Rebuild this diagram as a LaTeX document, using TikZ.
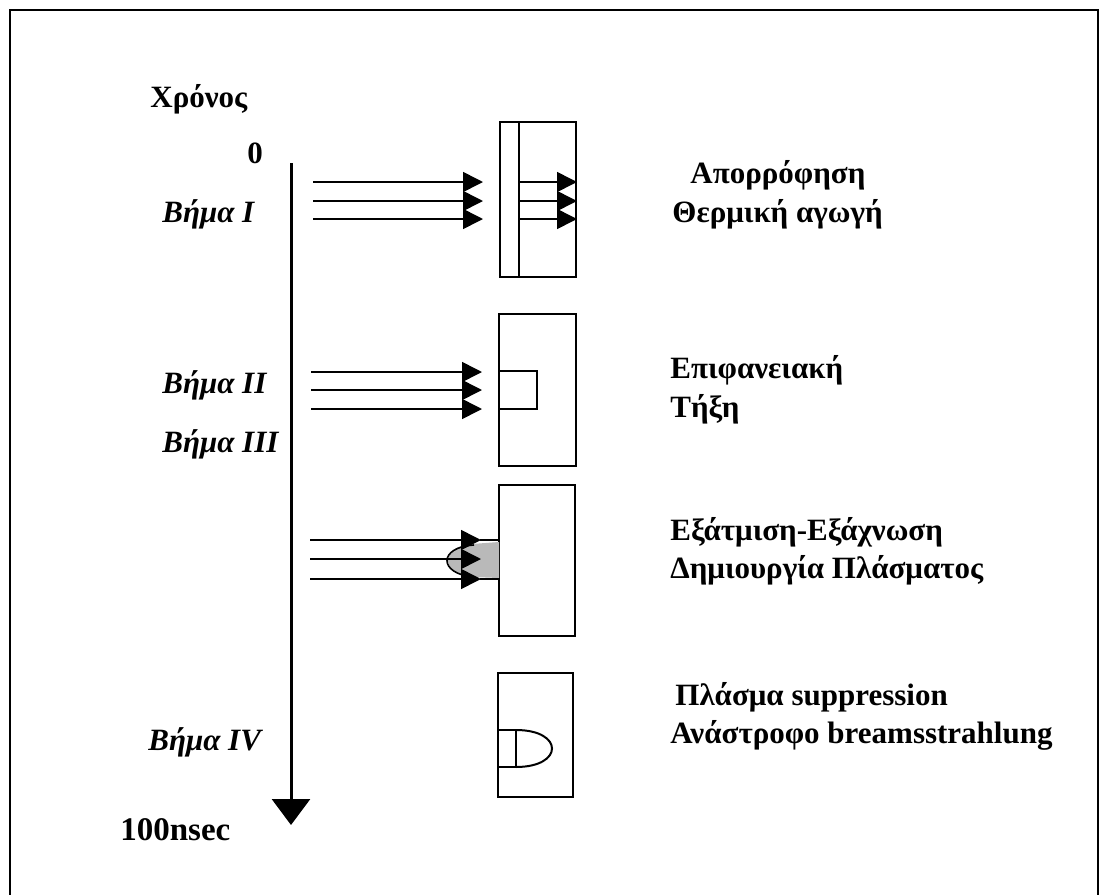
\documentclass[tikz,border=0pt]{standalone}
\usepackage{fontspec}
\setmainfont{Liberation Serif}
\usetikzlibrary{arrows.meta}
\begin{document}
\begin{tikzpicture}[x=0.5pt,y=-0.5pt,
  lbl/.style={anchor=base west,inner sep=0pt,font=\fontsize{15.5}{18}\selectfont\bfseries},
  steplbl/.style={lbl,font=\fontsize{15.5}{18}\selectfont\bfseries\itshape},
  ray/.style={line width=0.8pt,-{Triangle[length=10pt,width=10pt]},shorten >=-0.5pt},
  target/.style={line width=1pt},
  timeaxis/.style={line width=1.5pt,-{Triangle[length=13pt,width=19pt]}}]
\useasboundingbox (0,0) rectangle (1100,895);
% outer frame
\draw[line width=1.2pt] (10,895) -- (10,10) -- (1098,10) -- (1098,895);

% time axis
\node[lbl] (chronos) at (150,107) {Χρόνος};
\node[lbl] (zero) at (247,163) {0};
\node[lbl,font=\fontsize{16.5}{18}\selectfont\bfseries] (tend) at (120,840) {100nsec};
\coordinate (t0) at (291,163);
\coordinate (t1) at (291,825);
\draw[timeaxis] (t0) -- (t1);

% step labels
\node[steplbl] (s1) at (162,222) {Βήμα I};
\node[steplbl] (s2) at (162,393) {Βήμα II};
\node[steplbl] (s3) at (162,452) {Βήμα III};
\node[steplbl] (s4) at (148,750) {Βήμα IV};

% ---- step I: absorption and heat conduction
\draw[target] (500,122) rectangle (576,277);
\draw[target] (519,122) -- (519,277);
\foreach \y [count=\i] in {182,201,219}{
  \coordinate (a\i) at (313,\y);
  \coordinate (b\i) at (482,\y);
  \coordinate (c\i) at (519,\y);
  \coordinate (d\i) at (576,\y);
  \draw[ray] (a\i) -- (b\i);
  \draw[ray] (c\i) -- (d\i);
}
\node[lbl] (l1a) at (690,183) {Απορρόφηση};
\node[lbl] (l1b) at (672,222) {Θερμική αγωγή};

% ---- step II: surface melting
\draw[target] (499,314) rectangle (576,466);
\draw[target] (499,371) rectangle (537,409);
\foreach \y [count=\i] in {372,390,409}{
  \coordinate (e\i) at (311,\y);
  \coordinate (f\i) at (481,\y);
  \draw[ray] (e\i) -- (f\i);
}
\node[lbl] (l2a) at (670,378) {Επιφανειακή};
\node[lbl] (l2b) at (670,417) {Τήξη};

% ---- step III: evaporation / ablation, plasma formation
\draw[target] (499,485) rectangle (575,636);
\fill[gray!55] (499,542) -- (472,544)
  .. controls (440,546) and (440,575) .. (472,577) -- (499,578) -- cycle;
\draw[line width=0.8pt] (474,545) .. controls (438,547) and (438,574) .. (474,577);
\foreach \y [count=\i] in {540,559,579}{
  \coordinate (g\i) at (310,\y);
  \coordinate (h\i) at (480,\y);
  \draw[ray] (g\i) -- (h\i);
}
\coordinate (p1) at (499,540);
\coordinate (p3) at (499,579);
\draw[line width=0.8pt] (h1) -- (p1);
\draw[line width=0.8pt] (h3) -- (p3);
\node[lbl] (l3a) at (670,540) {Εξάτμιση-Εξάχνωση};
\node[lbl] (l3b) at (670,578) {Δημιουργία Πλάσματος};

% ---- step IV: plasma shielding
\draw[target] (498,673) rectangle (573,797);
\draw[target] (498,730) -- (516,730) -- (516,767) -- (498,767);
\draw[target] (516,730) .. controls (564,730) and (564,767) .. (516,767);
\node[lbl] (l4a) at (675,705) {Πλάσμα suppression};
\node[lbl] (l4b) at (670,743) {Ανάστροφο breamsstrahlung};
\end{tikzpicture}
\end{document}
